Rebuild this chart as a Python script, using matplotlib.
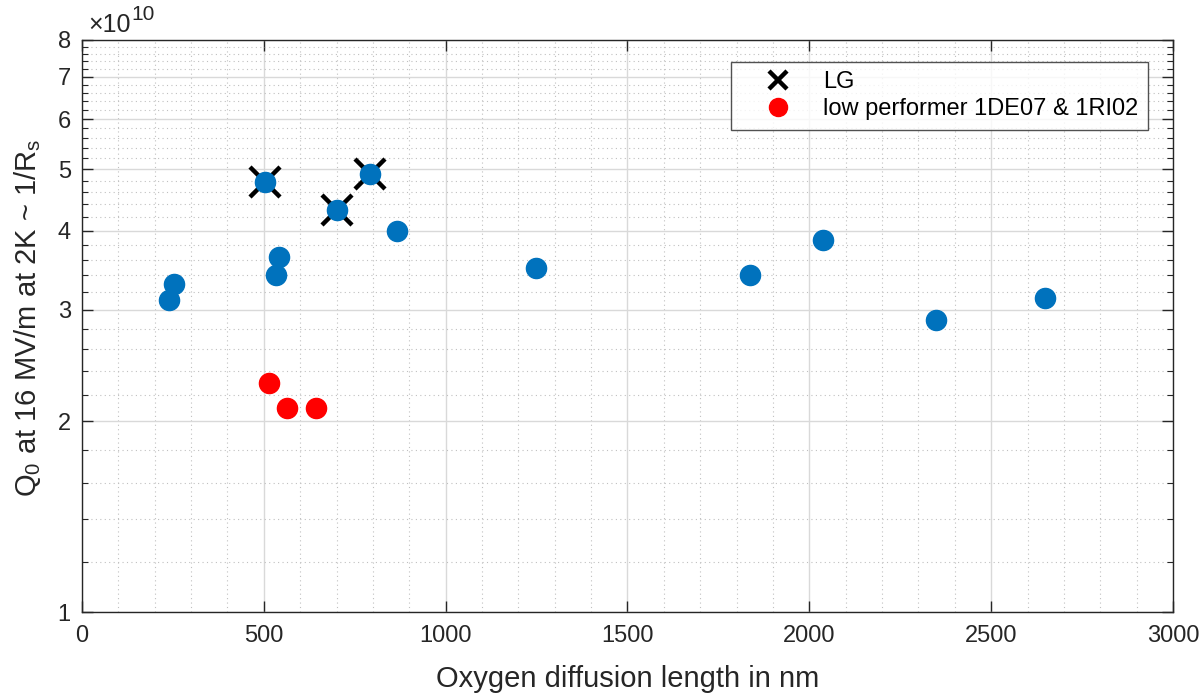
import matplotlib
matplotlib.use("Agg")
import matplotlib.pyplot as plt
from matplotlib.ticker import FixedLocator, NullFormatter, MultipleLocator

plt.rcParams['font.family'] = ['Liberation Sans', 'DejaVu Sans']
plt.rcParams['mathtext.fontset'] = 'custom'
plt.rcParams['mathtext.rm'] = 'Liberation Sans'
plt.rcParams['mathtext.it'] = 'Liberation Sans'

# Data (Q0 in units of 1e10)
lg_x = [503, 701, 792]
lg_y = [4.77, 4.31, 4.91]
blue_x = [239, 253, 533, 542, 866, 1248, 1837, 2037, 2348, 2648]
blue_y = [3.11, 3.30, 3.40, 3.64, 4.00, 3.49, 3.40, 3.87, 2.89, 3.13]
red_x = [514, 564, 643]
red_y = [2.30, 2.10, 2.10]

xticks = [0, 500, 1000, 1500, 2000, 2500, 3000]
yticks = [1, 2, 3, 4, 5, 6, 7, 8]
yminor = [round(1 + 0.2 * i, 1) for i in range(36) if round(1 + 0.2 * i, 1) not in yticks]

axc = '#262626'
blue = '#0072BD'

fig = plt.figure(figsize=(12, 6.98), dpi=100)
ax = fig.add_axes([0.0683, 0.1232, 0.9092, 0.8195])

ax.plot(lg_x, lg_y, 'x', color='black', markersize=22, mew=3.2, zorder=3, label='LG', linestyle='none')
ax.plot(blue_x + lg_x, blue_y + lg_y, 'o', color=blue, markersize=14.5, mec=blue, zorder=4, linestyle='none')
ax.plot(red_x, red_y, 'o', color='#FF0000', markersize=14.5, zorder=4, linestyle='none',
        label='low performer 1DE07 & 1RI02')

ax.set_yscale('log')
ax.set_xlim(0, 3000)
ax.set_ylim(1, 8)
ax.xaxis.set_major_locator(FixedLocator(xticks))
ax.xaxis.set_minor_locator(MultipleLocator(100))
ax.yaxis.set_major_locator(FixedLocator(yticks))
ax.yaxis.set_minor_locator(FixedLocator(yminor))
ax.yaxis.set_minor_formatter(NullFormatter())
ax.set_yticklabels([str(t) for t in yticks])
ax.set_xticklabels([str(t) for t in xticks])

ax.grid(which='major', color='#d9d9d9', linewidth=1.0, linestyle='-')
ax.grid(which='minor', color='#c0c0c0', linewidth=0.8, linestyle=(0, (1, 3)))
ax.set_axisbelow(True)

ax.tick_params(which='both', direction='in', top=True, right=True, colors=axc, labelsize=17)
ax.tick_params(which='major', length=8, width=1.0)
ax.tick_params(which='minor', length=4.5, width=0.8)
ax.tick_params(axis='x', which='minor', length=0)
ax.tick_params(axis='x', pad=9)
ax.tick_params(axis='y', pad=8)
for s in ax.spines.values():
    s.set_color(axc)
    s.set_linewidth(1.0)

ax.set_xlabel('Oxygen diffusion length in nm', fontsize=21, color=axc)
ax.xaxis.set_label_coords(0.5, -0.092)
ax.set_ylabel('Q$_0$ at 16 MV/m at 2K ~ 1/R$_s$', fontsize=21, color=axc)
ax.yaxis.set_label_coords(-0.036, 0.514)

base = ax.text(0.0055, 1.014, '×10', transform=ax.transAxes, fontsize=18, color=axc,
               ha='left', va='baseline')
ax.annotate('10', xy=(1.0, 0.55), xycoords=base, xytext=(1, 0), textcoords='offset points',
            fontsize=15, color=axc, ha='left', va='bottom')

leg = ax.legend(loc='upper right', bbox_to_anchor=(0.977, 0.9615), borderaxespad=0, fontsize=17,
                frameon=True, fancybox=False, edgecolor=axc, handletextpad=0.3, borderpad=0.4,
                labelspacing=0.2, handlelength=3.2)
leg.get_frame().set_linewidth(1.0)
for h in leg.legend_handles:
    h.set_markersize(13)

fig.savefig('out.png', dpi=100)
